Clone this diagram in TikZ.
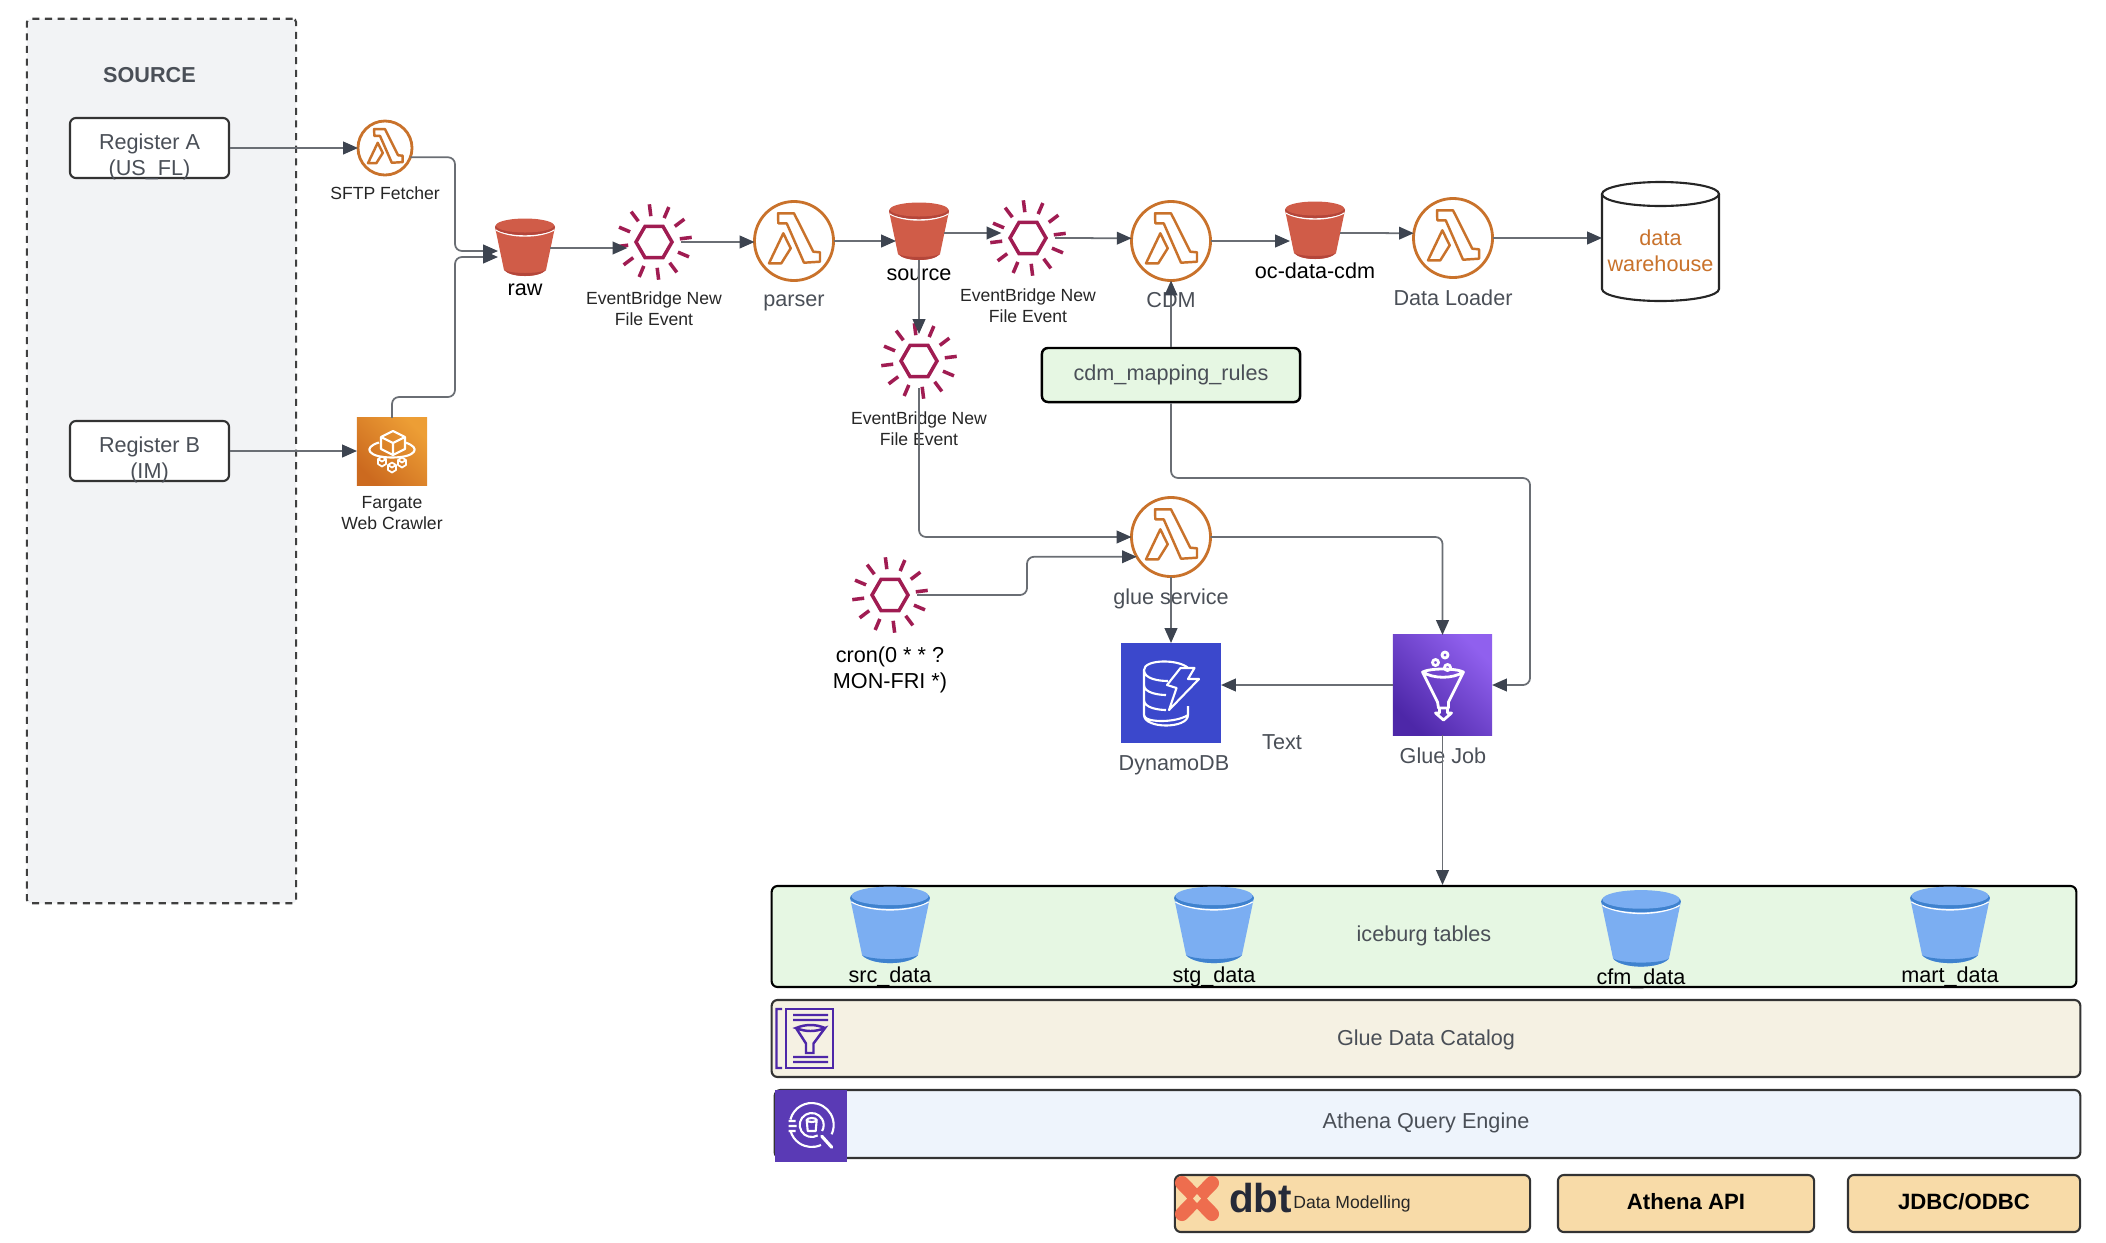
\documentclass[tikz,border=0pt]{standalone}
\usepackage{fontspec}
\setmainfont{Liberation Sans}
\usetikzlibrary{arrows.meta,positioning}
\definecolor{ink}{HTML}{4A4F57}
\definecolor{wire}{HTML}{6A6E74}
\definecolor{tipcol}{HTML}{3D4450}
\definecolor{sourcebg}{HTML}{F2F3F5}
\definecolor{lambdacol}{HTML}{C9722B}
\definecolor{eventcol}{HTML}{A01C52}
\definecolor{redbody}{HTML}{D05C48}
\definecolor{redlid}{HTML}{B4463A}
\definecolor{bluebody}{HTML}{7BAEF2}
\definecolor{bluelid}{HTML}{3F82CE}
\definecolor{greenbg}{HTML}{E6F7E3}
\definecolor{creambg}{HTML}{F5F1E3}
\definecolor{icebg}{HTML}{EEF4FC}
\definecolor{sandbg}{HTML}{F8DBA8}
\definecolor{dynamocol}{HTML}{3B48CC}
\definecolor{gluelow}{HTML}{4D27A8}
\definecolor{gluehigh}{HTML}{9060EE}
\definecolor{fargatelow}{HTML}{CC6A1F}
\definecolor{fargatehigh}{HTML}{ED9E35}
\definecolor{athenacol}{HTML}{5A3AB5}
\definecolor{dbtcol}{HTML}{EE6D4E}
\definecolor{dbtink}{HTML}{262A38}
\tikzset{
    flow/.style={
        -{Triangle[length=4.2pt,width=3.6pt,color=tipcol]},
        line width=0.5pt,
        color=wire,
        rounded corners=2pt
    },
    biglabel/.style={
        font=\fontsize{6.15}{7.4}\selectfont,
        text=ink,
        align=center,
        inner sep=0pt
    },
    darklabel/.style={
        biglabel,
        text=black
    },
    smalllabel/.style={
        font=\fontsize{5}{6}\selectfont,
        text=black!85,
        align=center,
        inner sep=0pt
    },
    panel/.style={
        rectangle,
        rounded corners=1.7pt,
        draw=black!80,
        line width=0.6pt,
        font=\fontsize{6.15}{7.4}\selectfont,
        text=ink,
        inner sep=0pt
    },
    lambdaicon/.style={
        circle,
        draw=lambdacol,
        fill=white,
        line width=0.8pt,
        inner sep=0pt,
        outer sep=0pt,
        minimum size=#1
    },
    eventicon/.style={
        circle,
        inner sep=0pt,
        outer sep=0pt,
        minimum size=0.54cm
    },
    bucketicon/.style={
        rectangle,
        inner sep=0pt,
        outer sep=0pt,
        minimum width=0.6cm,
        minimum height=0.58cm
    },
    squareicon/.style n args={3}{
        rectangle,
        inner sep=0pt,
        outer sep=0pt,
        minimum width=#1,
        minimum height=#2,
        fill=#3
    },
    glyph/.style={
        draw=white,
        line width=0.6pt,
        line join=round
    },
    pics/lambdamark/.style={
        code={
            \draw[lambdacol,line width=0.7pt,line join=round]
                (-16,-27.7) -- (0,-27.7) -- (19.3,10.7) -- (26,11.3) -- (26,20.7)
                -- (10,21.7) -- (-7.3,-17.7) -- (-15.7,-17.7) -- cycle;
            \draw[lambdacol,line width=0.7pt,line join=round]
                (-10.7,-7.7) -- (-3.3,7.3) -- (-12.7,22.3) -- (-25,22.3) -- cycle;
        }
    },
    pics/eventmark/.style={
        code={
            \draw[eventcol,line width=1pt]
                (0:18) -- (60:18) -- (120:18) -- (180:18)
                -- (240:18) -- (300:18) -- cycle;
            \foreach \t in {23,53,...,353}
                \draw[eventcol,line width=1pt] (\t:26) -- (\t:38);
        }
    },
    pics/bucketmark/.style 2 args={
        code={
            \fill[#1]
                (-30,-20) -- (-21,23)
                .. controls (-14,31) and (14,31) .. (21,23)
                -- (30,-20) -- cycle;
            \fill[#2]
                (-21,23) .. controls (-14,31) and (14,31) .. (21,23)
                .. controls (14,27) and (-14,27) .. (-21,23);
            \draw[white,line width=0.4pt]
                (-29,-17) .. controls (-14,-9) and (14,-9) .. (29,-17);
            \fill[#2] (0,-20) ellipse [x radius=30, y radius=8];
            \fill[#1] (0,-21.5) ellipse [x radius=29, y radius=7];
        }
    }
}
\begin{document}
\begin{tikzpicture}[x=0.01cm,y=-0.01cm]

    \useasboundingbox (0,0) rectangle (2106,1242);

    % Source
    \node[
        rectangle,
        rounded corners=1pt,
        draw=black!75,
        fill=sourcebg,
        line width=0.6pt,
        dash pattern=on 2pt off 1.6pt,
        minimum width=2.69cm,
        minimum height=8.84cm,
        inner sep=0pt
    ] (source) at (161.5,461) {};

    \node[
        biglabel,
        font=\fontsize{6.15}{7.4}\selectfont\bfseries
    ] (sourcetitle) at (149.5,75) {SOURCE};

    % Registers
    \node[panel,fill=white,minimum width=1.59cm,minimum height=0.6cm]
        (regA) at (149.5,148) {};
    \node[biglabel] (regAtext) at (149.5,156.5) {Register A\\(US\_FL)};

    \node[panel,fill=white,minimum width=1.59cm,minimum height=0.6cm]
        (regB) at (149.5,451) {};
    \node[biglabel] (regBtext) at (149.5,459.5) {Register B\\(IM)};

    % SFTP Fetcher
    \node[lambdaicon=0.54cm] (sftp) at (385,148) {};
    \pic[scale=0.68] at (sftp) {lambdamark};
    \node[smalllabel] (sftptext) at (385,193) {SFTP Fetcher};

    % Fargate
    \node[
        rectangle,
        inner sep=0pt,
        outer sep=0pt,
        minimum width=0.7cm,
        minimum height=0.67cm,
        shade,
        shading=axis,
        left color=fargatelow,
        right color=fargatehigh,
        shading angle=135
    ] (fargate) at (392,451.5) {};
    \begin{scope}[shift={(393,443)}]
        \draw[glyph,xscale=3,yscale=2.4]
            (0,-5) -- (4,-2.5) -- (4,2.5) -- (0,5) -- (-4,2.5) -- (-4,-2.5) -- cycle
            (-4,-2.5) -- (0,0) -- (4,-2.5)
            (0,0) -- (0,5);
    \end{scope}
    \begin{scope}[shift={(392,451.5)}]
        \draw[glyph]
            (-13,-9) .. controls (-30,-4) and (-24,6) .. (0,6)
            .. controls (24,6) and (30,-4) .. (13,-9);
        \foreach \cx/\cy in {-10/10,0/16,10/11}
            \draw[glyph,line width=0.5pt,shift={(\cx,\cy)}]
                (0,-5) -- (4,-2.5) -- (4,2.5) -- (0,5) -- (-4,2.5) -- (-4,-2.5) -- cycle
                (-4,-2.5) -- (0,0) -- (4,-2.5);
    \end{scope}
    \node[smalllabel] (fargatetext) at (392,513) {Fargate\\Web Crawler};

    % Raw
    \node[bucketicon] (raw) at (525,247) {};
    \pic at (raw) {bucketmark={redbody}{redlid}};
    \node[darklabel] (rawtext) at (525,289.5) {raw};

    % Evenement raw
    \node[eventicon] (eventA) at (654,242) {};
    \pic at (eventA) {eventmark};
    \node[smalllabel] (eventAtext) at (654,309) {EventBridge New\\File Event};

    % Parser
    \node[lambdaicon=0.79cm] (parser) at (794,241) {};
    \pic at (parser) {lambdamark};
    \node[biglabel] (parsertext) at (794,302.5) {parser};

    % Source bucket
    \node[bucketicon] (srcbucket) at (919,231) {};
    \pic at (srcbucket) {bucketmark={redbody}{redlid}};
    \node[darklabel] (srcbuckettext) at (919,274.5) {source};

    % Evenement source
    \node[eventicon] (eventB) at (1028,238) {};
    \pic at (eventB) {eventmark};
    \node[smalllabel] (eventBtext) at (1028,306) {EventBridge New\\File Event};

    % CDM
    \node[lambdaicon=0.79cm] (cdm) at (1171,241) {};
    \pic at (cdm) {lambdamark};
    \node[biglabel] (cdmtext) at (1171,300) {CDM};

    % oc-data-cdm
    \node[bucketicon] (cdmbucket) at (1315,230) {};
    \pic at (cdmbucket) {bucketmark={redbody}{redlid}};
    \node[darklabel] (cdmbuckettext) at (1315,271) {oc-data-cdm};

    % Data Loader
    \node[lambdaicon=0.79cm] (loader) at (1453,238) {};
    \pic at (loader) {lambdamark};
    \node[biglabel] (loadertext) at (1453,298) {Data Loader};

    % Data warehouse
    \node[
        rectangle,
        inner sep=0pt,
        outer sep=0pt,
        minimum width=1.17cm,
        minimum height=1.19cm
    ] (warehouse) at (1660.5,241.5) {};
    \begin{scope}[shift={(1660.5,241.5)}]
        \draw[black!85,fill=white,line width=0.6pt]
            (-58.5,-47.5) -- (-58.5,47.5)
            arc [start angle=180,end angle=0,x radius=58.5,y radius=12]
            -- (58.5,-47.5);
        \draw[black!85,fill=white,line width=0.6pt]
            (0,-47.5) ellipse [x radius=58.5, y radius=12];
    \end{scope}
    \node[biglabel,text=lambdacol] (warehousetext) at (1660.5,251)
        {data\\warehouse};

    % Evenement parser
    \node[eventicon] (eventC) at (919,361) {};
    \pic at (eventC) {eventmark};
    \node[smalllabel] (eventCtext) at (919,428.5) {EventBridge New\\File Event};

    % Mapping rules
    \node[
        panel,
        fill=greenbg,
        draw=black,
        line width=0.7pt,
        minimum width=2.58cm,
        minimum height=0.54cm
    ] (mapping) at (1171,375) {cdm\_mapping\_rules};

    % Glue service
    \node[lambdaicon=0.79cm] (glue) at (1171,537) {};
    \pic at (glue) {lambdamark};
    \node[biglabel] (gluetext) at (1171,598.5) {glue service};

    % Cron
    \node[eventicon] (cron) at (890,595) {};
    \pic at (cron) {eventmark};
    \node[darklabel] (crontext) at (890,669.5) {cron(0 * * ?\\MON-FRI *)};

    % DynamoDB
    \node[squareicon={1cm}{1cm}{dynamocol}] (dynamo) at (1171,693) {};
    \begin{scope}[shift={(1171,693)}]
        \draw[glyph]
            (17,-25) .. controls (8,-34) and (-27,-34) .. (-27,-23)
            -- (-27,22) .. controls (-27,36) and (17,36) .. (17,22) -- (17,13)
            (-27,-23) .. controls (-27,-14) and (-12,-12) .. (-3,-12)
            (-27,-8) .. controls (-27,0) and (-12,2) .. (-5,2)
            (-27,7) .. controls (-27,15) and (-12,17) .. (-5,17)
            (-27,22) .. controls (-27,30) and (5,30) .. (17,22);
        \draw[glyph,fill=dynamocol]
            (-4,-8) -- (9.5,-25) -- (23.5,-25) -- (17,-14) -- (28,-14)
            -- (-2,17) -- (5.5,-5) -- cycle;
    \end{scope}
    \node[biglabel] (dynamotext) at (1174,765.5) {DynamoDB};

    \node[biglabel] (note) at (1282,742) {Text};

    % Glue Job
    \node[
        rectangle,
        inner sep=0pt,
        outer sep=0pt,
        minimum width=0.99cm,
        minimum height=1cm,
        shade,
        shading=axis,
        left color=gluelow,
        right color=gluehigh,
        shading angle=135
    ] (gluejob) at (1442.5,685) {};
    \begin{scope}[shift={(1442.5,685)}]
        \draw[glyph,line width=0.8pt]
            (-20,-13) -- (-5,17) -- (-4,23) -- (6,23) -- (6,17) -- (21,-13)
            .. controls (10,-6) and (-9,-6) .. (-20,-13)
            .. controls (-12,-17) and (13,-17) .. (21,-13);
        \draw[glyph,line width=0.8pt]
            (-7,-22.5) circle (3) (2.5,-30) circle (3) (5,-17.5) circle (3);
        \draw[glyph,line width=0.8pt]
            (-3,22) -- (-3,28) -- (-7,28) -- (1,35) -- (9,28) -- (5,28) -- (5,22);
    \end{scope}
    \node[biglabel] (gluejobtext) at (1443,756) {Glue Job};

    % Iceburg tables
    \node[
        panel,
        fill=greenbg,
        draw=black,
        minimum width=13.04cm,
        minimum height=1.01cm
    ] (iceburg) at (1424,936.5) {};
    \node[biglabel] (iceburgtext) at (1424,935.5) {iceburg tables};

    \node[bucketicon,minimum width=0.8cm,minimum height=0.77cm] (srcdata) at (890,924.5) {};
    \pic[scale=1.33] at (srcdata) {bucketmark={bluebody}{bluelid}};
    \node[darklabel] (srcdatatext) at (890,976.5) {src\_data};

    \node[bucketicon,minimum width=0.8cm,minimum height=0.77cm] (stgdata) at (1214,924.5) {};
    \pic[scale=1.33] at (stgdata) {bucketmark={bluebody}{bluelid}};
    \node[darklabel] (stgdatatext) at (1214,976.5) {stg\_data};

    \node[bucketicon,minimum width=0.8cm,minimum height=0.77cm] (cfmdata) at (1641,928) {};
    \pic[scale=1.33] at (cfmdata) {bucketmark={bluebody}{bluelid}};
    \node[darklabel] (cfmdatatext) at (1641,978.5) {cfm\_data};

    \node[bucketicon,minimum width=0.8cm,minimum height=0.77cm] (martdata) at (1950,924.5) {};
    \pic[scale=1.33] at (martdata) {bucketmark={bluebody}{bluelid}};
    \node[darklabel] (martdatatext) at (1950,976.5) {mart\_data};

    % Glue Data Catalog
    \node[
        panel,
        fill=creambg,
        minimum width=13.08cm,
        minimum height=0.77cm
    ] (catalog) at (1426,1038.5) {};
    \node[biglabel] (catalogtext) at (1426,1039.5) {Glue Data Catalog};

    \node[
        rectangle,
        draw=gluelow,
        line width=0.7pt,
        inner sep=0pt,
        minimum width=0.47cm,
        minimum height=0.59cm
    ] (catalogicon) at (809.5,1038.5) {};
    \begin{scope}[shift={(809.5,1038.5)}]
        \draw[gluelow,line width=0.7pt]
            (-27.5,-29.5) -- (-33,-29.5) -- (-33,29.5) -- (-27.5,29.5)
            (-16.5,-23.5) -- (18.5,-23.5) (-16.5,-18.5) -- (18.5,-18.5)
            (-16.5,18.5) -- (18.5,18.5) (-16.5,23.5) -- (18.5,23.5)
            (-13.5,-10.5) -- (-3.5,5) -- (-3.5,14.5) -- (4,14.5) -- (4,5) -- (15.5,-10.5)
            .. controls (6,-6.5) and (-4,-6.5) .. (-13.5,-10.5)
            .. controls (-4,-14.5) and (6,-14.5) .. (15.5,-10.5);
    \end{scope}

    % Athena
    \node[
        panel,
        fill=icebg,
        minimum width=13.05cm,
        minimum height=0.68cm
    ] (athena) at (1427.5,1124) {};
    \node[biglabel] (athenatext) at (1426,1122.5) {Athena Query Engine};

    \node[squareicon={0.72cm}{0.72cm}{athenacol}] (athenaicon) at (811,1126) {};
    \begin{scope}[shift={(811.7,1125)}]
        \draw[glyph]
            (65:22) arc [start angle=65,end angle=165,radius=22]
            (195:22) arc [start angle=195,end angle=385,radius=22]
            (60:12) arc [start angle=60,end angle=390,radius=12]
            (-23,-4) -- (-16,-4) (-23,1) -- (-15,1) (-23,6) -- (-16,6)
            (-5,-5) -- (-4,6) -- (4,6) -- (5,-5)
            (0,-5) ellipse [x radius=5, y radius=2];
        \draw[glyph,line width=0.9pt,line cap=round] (48:15) -- (48:30);
    \end{scope}

    % dbt
    \node[
        panel,
        fill=sandbg,
        minimum width=3.55cm,
        minimum height=0.57cm
    ] (dbtbox) at (1352.5,1203.5) {};
    \draw[dbtcol,line width=4pt,line cap=round] (1182,1183) -- (1212,1214);
    \draw[dbtcol,line width=4pt,line cap=round] (1212,1183) -- (1182,1214);
    \fill[sandbg] (1197,1194) -- (1201,1198.5) -- (1197,1203) -- (1193,1198.5) -- cycle;
    \node[
        font=\fontsize{11.5}{13}\selectfont\bfseries,
        text=dbtink,
        inner sep=0pt
    ] (dbtword) at (1260.5,1198) {dbt};
    \node[
        smalllabel,
        font=\fontsize{5}{6}\selectfont
    ] (dbttext) at (1352,1203.5) {Data Modelling};

    % Athena API
    \node[
        panel,
        fill=sandbg,
        minimum width=2.56cm,
        minimum height=0.57cm,
        text=black,
        font=\fontsize{6.3}{7.4}\selectfont\bfseries
    ] (apibox) at (1686,1203.5) {\raisebox{0.9pt}{Athena API}};

    % JDBC
    \node[
        panel,
        fill=sandbg,
        minimum width=2.32cm,
        minimum height=0.57cm,
        text=black,
        font=\fontsize{6.3}{7.4}\selectfont\bfseries
    ] (jdbcbox) at (1964,1203.5) {\raisebox{0.9pt}{JDBC/ODBC}};

    % Points de passage
    \coordinate (rawbusA) at (455,251);
    \coordinate (rawinA) at (498,251);
    \coordinate (rawbusB) at (455,397);
    \coordinate (rawbusC) at (455,257);
    \coordinate (rawinB) at (498,257);
    \coordinate (rawout) at (550,248);
    \coordinate (srcin) at (896,241);
    \coordinate (srcout) at (944,233);
    \coordinate (cdmin) at (1290,241);
    \coordinate (cdmout) at (1340,233);
    \coordinate (cronbus) at (1027,556.75);
    \coordinate (mapbus) at (1530,478);

    % Connecteurs
    \draw[flow] (regA.east) -- (sftp.west);
    \draw[flow] (regB.east) -- (regB.east -| fargate.west);
    \draw[flow] (sftp.-20) -| (rawbusA) -- (rawinA);
    \draw[flow] (fargate.north) |- (rawbusB) -- (rawbusC) -- (rawinB);
    \draw[flow] (rawout) -- (rawout -| eventA.190);
    \draw[flow] (eventA.east) -- (eventA.east -| parser.west);
    \draw[flow] (parser.east) -- (srcin);
    \draw[flow] (srcout) -- (srcout -| eventB.170);
    \draw[flow] (eventB.east) -- (cdm.176);
    \draw[flow] (cdm.east) -- (cdmin);
    \draw[flow] (cdmout) -- (loader.173);
    \draw[flow] (loader.east) -- (loader.east -| warehouse.west);
    \draw[flow] (srcbucket.south) -- (eventC.north);
    \draw[flow] (eventC.south) |- (glue.west);
    \draw[flow] (cron.east) -| (cronbus) -- (glue.210);
    \draw[flow] (glue.east) -| (gluejob.north);
    \draw[flow] (glue.south) -- (dynamo.north);
    \draw[flow] (gluejob.west) -- (gluejob.west -| dynamo.east);
    \draw[flow] (gluejob.south) -- (gluejob.south |- iceburg.north);
    \draw[flow] (mapping.north) -- (cdm.south);
    \draw[flow] (mapping.south) |- (mapbus) |- (gluejob.east);

\end{tikzpicture}
\end{document}
